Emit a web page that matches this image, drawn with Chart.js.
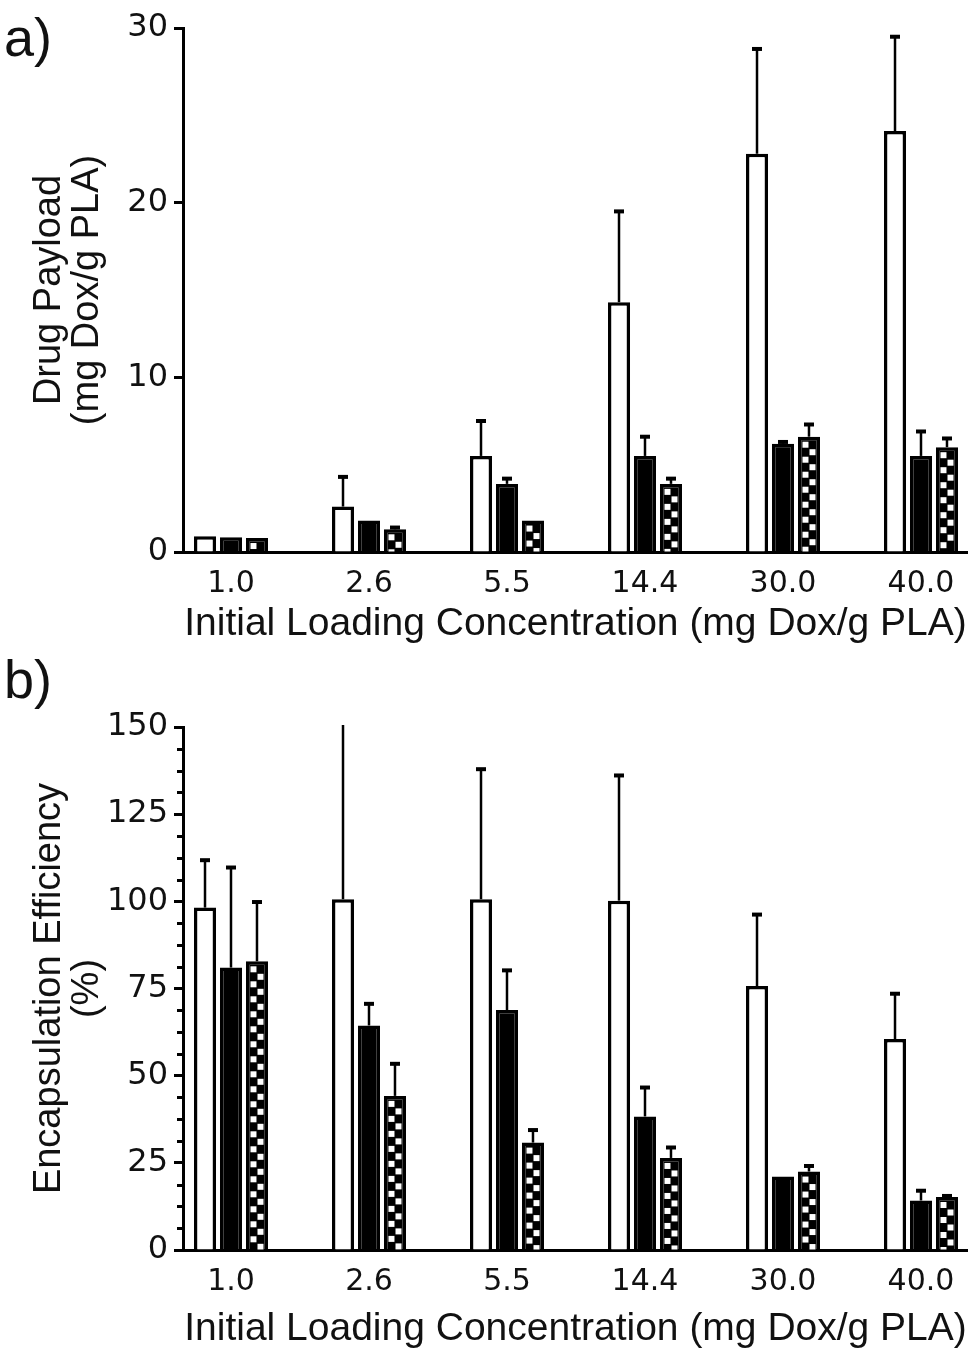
<!DOCTYPE html>
<html>
<head>
<meta charset="utf-8">
<script src="https://cdn.jsdelivr.net/npm/chart.js@4/dist/chart.umd.min.js"></script>
<style>
  html, body { margin: 0; padding: 0; background: #fff; width: 968px; height: 1349px; overflow: hidden; }
  .panel { position: absolute; left: 0; width: 968px; }
  .tag { position: absolute; font-family: "Liberation Sans", Arial, sans-serif; font-size: 54px; line-height: 1; color: #111; }
</style>
</head>
<body>
<div class="panel" style="top:0;height:650px"><canvas id="chartA" width="968" height="650"></canvas></div>
<div class="panel" style="top:650px;height:699px"><canvas id="chartB" width="968" height="699"></canvas></div>
<div class="tag" style="left:4px;top:10px">a)</div>
<div class="tag" style="left:4px;top:652px">b)</div>
<script>
// ---------- data ----------
const categories = ['1.0', '2.6', '5.5', '14.4', '30.0', '40.0'];
const seriesNames = ['Open bars', 'Solid bars', 'Checkered bars'];

const payloadOpen        = [0.9, 2.6, 5.5, 14.3, 22.8, 24.1];
const payloadOpenErr     = [0, 1.7, 2.0, 5.2, 6.0, 5.4];
const payloadSolid       = [0.85, 1.8, 3.9, 5.5, 6.2, 5.5];
const payloadSolidErr    = [0, 0, 0.3, 1.1, 0.1, 1.4];
const payloadChecker     = [0.8, 1.3, 1.8, 3.9, 6.6, 6.0];
const payloadCheckerErr  = [0, 0.1, 0, 0.3, 0.7, 0.5];

const efficiencyOpen       = [98.2, 100.6, 100.6, 100.2, 75.7, 60.5];
const efficiencyOpenErr    = [13.6, 52, 37.3, 35.9, 20.5, 13.0];
const efficiencySolid      = [81.0, 64.4, 68.8, 38.3, 21.1, 14.2];
const efficiencySolidErr   = [28.7, 6.2, 11.4, 8.3, 0, 2.8];
const efficiencyChecker    = [82.8, 44.2, 30.8, 26.4, 22.5, 15.2];
const efficiencyCheckerErr = [17.0, 9.2, 3.6, 3.0, 1.6, 0.3];

const payloadTicks = ['0', '10', '20', '30'];
const efficiencyTicks = ['0', '25', '50', '75', '100', '125', '150'];
const efficiencyMinorStep = 6.25;

const xTitle = 'Initial Loading Concentration (mg Dox/g PLA)';
const yTitleA = ['Drug Payload', '(mg Dox/g PLA)'];
const yTitleB = ['Encapsulation Efficiency', '(%)'];

// ---------- helpers ----------
const toPoints = arr => arr.map((v, i) => ({ x: i, y: v }));

const barExtras = {
  id: 'barExtras',
  afterDatasetsDraw(chart) {
    const ctx = chart.ctx, area = chart.chartArea, yS = chart.scales.y;
    ctx.save();
    ctx.beginPath();
    ctx.rect(area.left, area.top - 2, area.right - area.left, area.bottom - area.top + 2);
    ctx.clip();
    chart.data.datasets.forEach((ds, di) => {
      const meta = chart.getDatasetMeta(di);
      meta.data.forEach((bar, i) => {
        const p = bar.getProps(['x', 'y', 'base', 'width'], true);
        const bw = ds.borderWidth;
        if (ds.checker) {
          const L = p.x - p.width / 2 + bw, R = p.x + p.width / 2 - bw;
          const T = p.y + bw, B = p.base;
          const s = 6, gap = Math.max((R - L - 2 * s) / 3, 0.5);
          ctx.fillStyle = '#fff';
          let row = 0;
          for (let yy = T + 1.5; yy + 2 < B; yy += s + 1.5, row++) {
            const xx = row % 2 === 0 ? L + gap : R - gap - s;
            ctx.fillRect(xx, yy, s, Math.min(s, B - yy));
          }
        }
        const e = ds.errors ? ds.errors[i] : 0;
        if (e > 0) {
          const top = yS.getPixelForValue(ds.data[i].y + e);
          ctx.strokeStyle = '#000';
          ctx.lineWidth = 2.5;
          ctx.beginPath(); ctx.moveTo(p.x, p.y); ctx.lineTo(p.x, top); ctx.stroke();
          ctx.lineWidth = 4;
          ctx.beginPath(); ctx.moveTo(p.x - 5, top); ctx.lineTo(p.x + 5, top); ctx.stroke();
        }
      });
    });
    ctx.restore();
  }
};

const minorTicks = {
  id: 'minorTicks',
  afterDraw(chart, args, opts) {
    if (!opts || !opts.step) return;
    const yS = chart.scales.y, ctx = chart.ctx, left = chart.chartArea.left;
    ctx.save();
    ctx.strokeStyle = '#000';
    ctx.lineWidth = 3;
    const n = Math.round((yS.max - yS.min) / opts.step);
    for (let k = 0; k <= n; k++) {
      const v = yS.min + k * opts.step;
      if (Math.abs(v / opts.major - Math.round(v / opts.major)) < 1e-6) continue;
      const py = Math.round(yS.getPixelForValue(v)) + 0.5;
      ctx.beginPath(); ctx.moveTo(left - opts.length, py); ctx.lineTo(left, py); ctx.stroke();
    }
    ctx.restore();
  }
};

function datasets(open, openErr, solid, solidErr, chk, chkErr) {
  const common = { borderColor: '#000', borderWidth: 3.5, categoryPercentage: 0.565, barPercentage: 0.85 };
  return [
    Object.assign({ label: seriesNames[0], data: toPoints(open), errors: openErr, backgroundColor: '#fff' }, common),
    Object.assign({ label: seriesNames[1], data: toPoints(solid), errors: solidErr, backgroundColor: '#000' }, common),
    Object.assign({ label: seriesNames[2], data: toPoints(chk), errors: chkErr, backgroundColor: '#000', checker: true }, common)
  ];
}

function makeChart(id, dsets, yOpts, yTitle, padTop, xScaleHeight, xTitlePad, minorOpts) {
  return new Chart(document.getElementById(id), {
    type: 'bar',
    data: { datasets: dsets },
    options: {
      responsive: false,
      animation: false,
      events: [],
      layout: { padding: { left: 0, right: 0, top: padTop, bottom: 0 } },
      plugins: { legend: { display: false }, tooltip: { enabled: false }, minorTicks: minorOpts },
      scales: {
        x: {
          type: 'linear',
          min: -0.3478,
          max: 5.3406,
          offset: false,
          grid: { display: false },
          border: { display: true, color: '#000', width: 3 },
          afterBuildTicks: s => { s.ticks = categories.map((_, i) => ({ value: i })); },
          afterFit: s => { s.height = xScaleHeight; },
          ticks: {
            autoSkip: false, maxRotation: 0, padding: 6, color: '#111',
            font: { family: 'DejaVu Sans', size: 30 },
            callback: v => categories[v]
          },
          title: {
            display: true, text: xTitle, color: '#111',
            font: { family: 'Liberation Sans', size: 39 },
            padding: { top: 0, bottom: xTitlePad }
          }
        },
        y: Object.assign({
          beginAtZero: true,
          grid: { display: true, drawOnChartArea: false, drawTicks: true, tickLength: 9, tickWidth: 3, tickColor: '#000' },
          border: { display: true, color: '#000', width: 3 },
          afterFit: s => { s.width = 183; },
          title: {
            display: true, text: yTitle, color: '#111',
            font: { family: 'Liberation Sans', size: 38, lineHeight: 1.0 },
            padding: { top: 31, bottom: 0 }
          }
        }, yOpts)
      }
    },
    plugins: [barExtras, minorTicks]
  });
}

makeChart('chartA',
  datasets(payloadOpen, payloadOpenErr, payloadSolid, payloadSolidErr, payloadChecker, payloadCheckerErr),
  {
    min: 0, max: 30,
    ticks: {
      stepSize: 10, autoSkip: false, padding: 6, color: '#111',
      font: { family: 'DejaVu Sans', size: 32 },
      callback: v => payloadTicks[Math.round(v / 10)]
    }
  },
  yTitleA, 28, 98, 2, { step: 0 });

makeChart('chartB',
  datasets(efficiencyOpen, efficiencyOpenErr, efficiencySolid, efficiencySolidErr, efficiencyChecker, efficiencyCheckerErr),
  {
    min: 0, max: 150,
    ticks: {
      stepSize: 25, autoSkip: false, padding: 6, color: '#111',
      font: { family: 'DejaVu Sans', size: 32 },
      callback: v => efficiencyTicks[Math.round(v / 25)]
    }
  },
  yTitleB, 77, 99, -4, { step: efficiencyMinorStep, major: 25, length: 6 });
</script>
</body>
</html>
